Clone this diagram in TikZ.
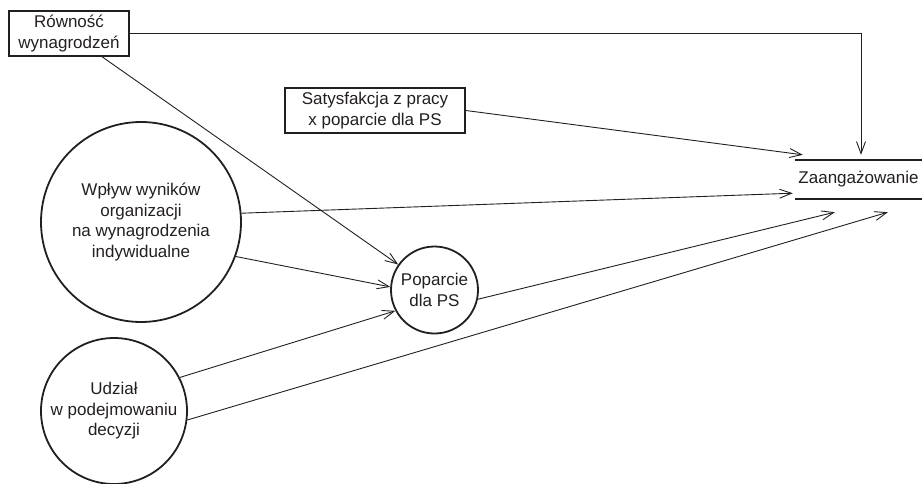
\documentclass[tikz,border=0pt]{standalone}
\usepackage{fontspec}
\setmainfont{Liberation Sans}
\usetikzlibrary{arrows.meta,calc}
\definecolor{ink}{HTML}{231F20}
\begin{document}
\begin{tikzpicture}[x=1pt,y=-1pt,
  every node/.style={font=\fontsize{17}{20.5}\selectfont, text=ink, align=center, inner sep=0pt},
  varbox/.style={draw=ink, line width=1.8pt, rectangle},
  latent/.style={draw=ink, line width=1.8pt, circle},
  conn/.style={draw=ink, line width=0.9pt, -{Straight Barb[length=12pt,width=9pt]}},
  rule/.style={draw=ink, line width=1.8pt}]
  \useasboundingbox (0,0) rectangle (923,484);

  % observed variables
  \node[varbox, minimum width=120pt, minimum height=45pt] (rown) at (69,33.5) {Równość\\wynagrodzeń};
  \node[varbox, minimum width=180pt, minimum height=45pt] (sat) at (375,110.5) {Satysfakcja z pracy\\x poparcie dla PS};

  % latent constructs
  \node[latent, minimum size=200pt] (wp) at (141,222) {Wpływ wyników\\organizacji\\na wynagrodzenia\\indywidualne};
  \node[latent, minimum size=146pt] (ud) at (114,411) {Udział\\w podejmowaniu\\decyzji};
  \node[latent, minimum size=87pt] (pop) at (434.5,290) {Poparcie\\dla PS};

  % outcome, set between two rules
  \node[minimum width=127pt, minimum height=39pt] (zaang) at (858.5,179.5) {Zaangażowanie};
  \draw[rule] (zaang.north west) -- (zaang.north east);
  \draw[rule] (zaang.south west) -- (zaang.south east);

  % arrow ends around the outcome
  \coordinate (zin1) at ($(zaang.north)+(2.5,-5)$);
  \coordinate (zin2) at ($(zaang.north west)+(8,-5)$);
  \coordinate (zin3) at ($(zaang.south west)+(-2,-6)$);
  \coordinate (zin4) at ($(zaang.south west)+(40,13)$);
  \coordinate (zin5) at ($(zaang.south west)+(93,13)$);

  % paths
  \draw[conn] (rown.east) -| (zin1);
  \draw[conn] (rown) -- (pop);
  \draw[conn] (sat.east) -- (zin2);
  \draw[conn] (wp.5.8) -- (zin3);
  \draw[conn] (wp.-20) -- (pop.176);
  \draw[conn] (ud.27) -- (pop.208);
  \draw[conn] (ud.-7) -- (zin5);
  \draw[conn] (pop.-12) -- (zin4);
\end{tikzpicture}
\end{document}
